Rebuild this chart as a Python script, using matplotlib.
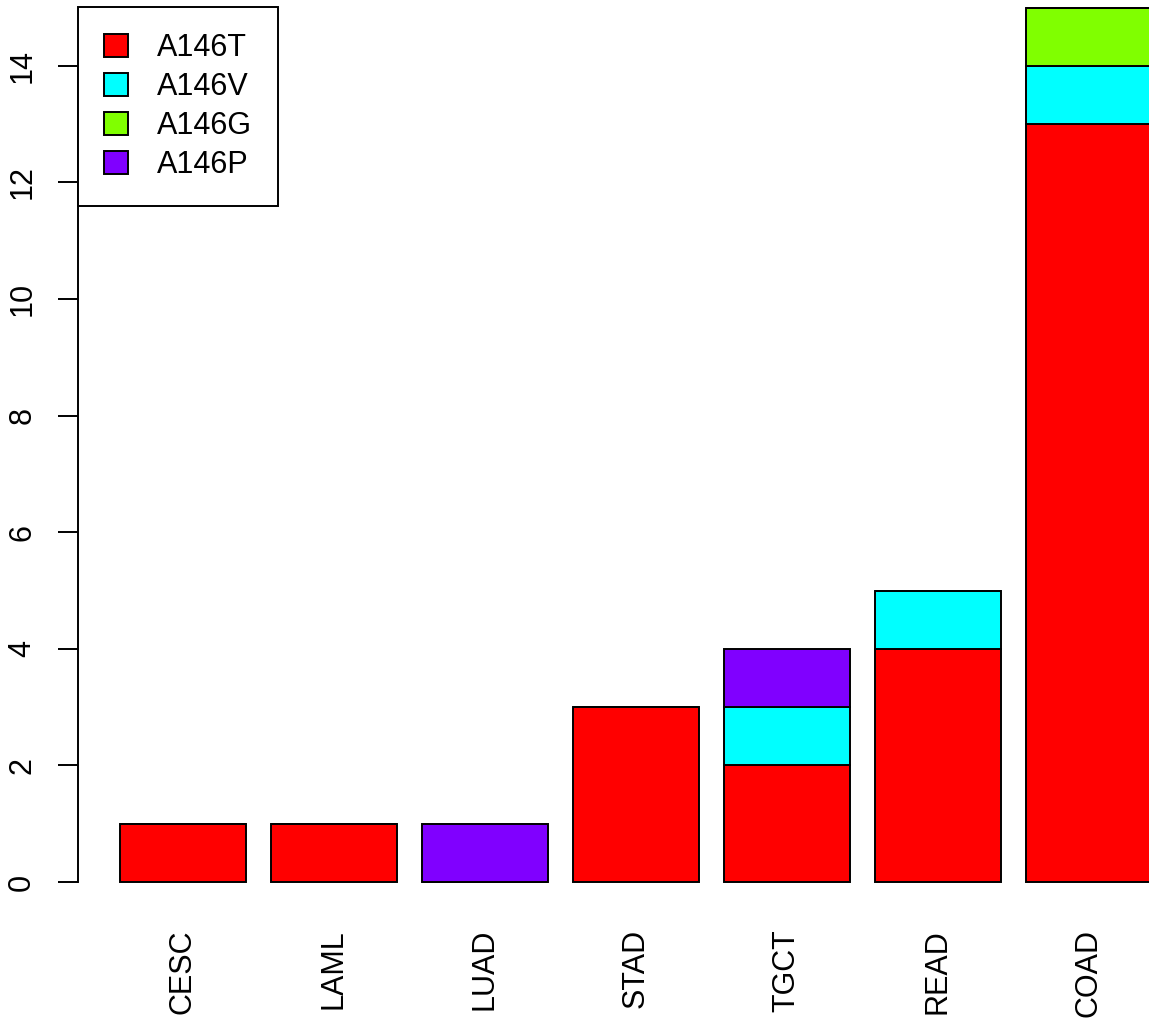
import matplotlib
matplotlib.use("Agg")
import matplotlib.pyplot as plt
import numpy as np

categories = ["CESC", "LAML", "LUAD", "STAD", "TGCT", "READ", "COAD"]
series_names = ["A146T", "A146V", "A146G", "A146P"]
a146t = [1, 1, 0, 3, 2, 4, 13]
a146v = [0, 0, 0, 0, 1, 1, 1]
a146g = [0, 0, 0, 0, 0, 0, 1]
a146p = [0, 0, 1, 0, 1, 0, 0]
colors = ["#FF0000", "#00FFFF", "#80FF00", "#8000FF"]
yticks = [0, 2, 4, 6, 8, 10, 12, 14]

plt.rcParams["font.family"] = ["Liberation Sans", "DejaVu Sans"]
FS = 22

W, H = 1149, 1021
fig = plt.figure(figsize=(W / 100, H / 100), dpi=100)
ax = fig.add_axes([78 / W, 1 - 917 / H, 1 - 78 / W, 917 / H])

x = 0.7 + 1.2 * np.arange(len(categories))
bottom = np.zeros(len(categories))
handles = []
for name, vals, c in zip(series_names, [a146t, a146v, a146g, a146p], colors):
    b = ax.bar(x, vals, width=1.0, bottom=bottom, color=c, edgecolor="black",
               linewidth=1.4, label=name)
    bottom += np.array(vals)
    handles.append(b)

ax.set_xlim(-0.1335, 8.38)
ax.set_ylim(-0.6, 15.13)

for s in ["top", "right", "bottom"]:
    ax.spines[s].set_visible(False)
ax.spines["left"].set_bounds(0, 14)
ax.spines["left"].set_linewidth(1.4)
ax.set_yticks(yticks)
ax.set_yticklabels([str(t) for t in yticks], rotation=90, va="center", fontsize=FS)
ax.tick_params(axis="y", length=14.4, width=1.4, pad=15)
ax.set_xticks([])

trans = matplotlib.transforms.blended_transform_factory(ax.transData, fig.transFigure)
for xi, lab in zip(x, categories):
    ax.text(xi, 1 - 929 / H, lab, transform=trans,
            rotation=90, ha="center", va="top", fontsize=FS)

leg = fig.legend(handles=handles, labels=series_names, loc="upper left",
                 bbox_to_anchor=(78 / W, 1 - 7 / H), borderaxespad=0,
                 fancybox=False, framealpha=1, edgecolor="black", fontsize=FS,
                 handlelength=0.78, handleheight=0.78, handletextpad=0.95,
                 labelspacing=0.3, borderpad=0.85)
leg.get_frame().set_linewidth(1.4)

fig.savefig("out.png", dpi=100)
